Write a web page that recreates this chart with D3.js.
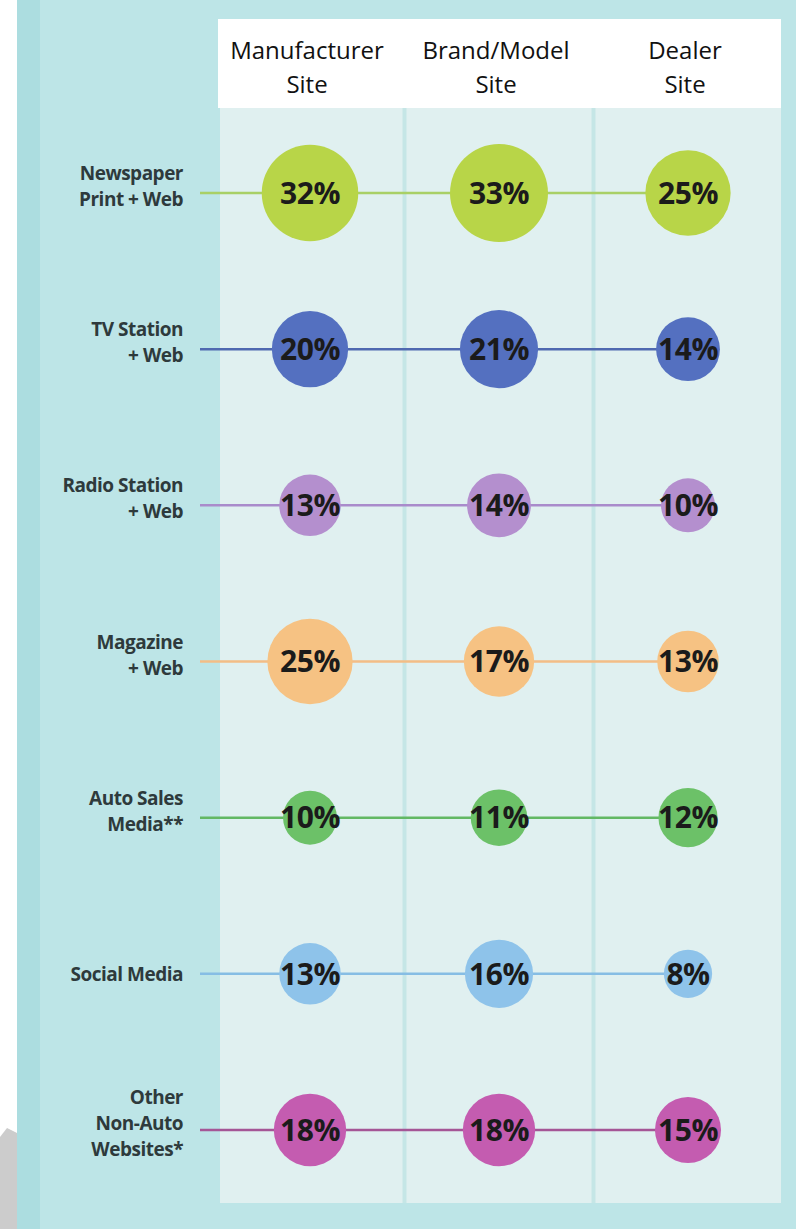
<!doctype html>
<html>
  <head>
    <meta charset="utf-8">
    <title>Media sites</title>
    <script src="https://cdnjs.cloudflare.com/ajax/libs/d3/7.8.5/d3.min.js"></script>
    <style>
      body { margin: 0; background: #fff; }
      svg { display: block; }
    </style>
  </head>
  <body>
    <div id="chart"></div>
    <script>
      // --- data ---
      const siteLines = [["Manufacturer", "Site"], ["Brand/Model", "Site"], ["Dealer", "Site"]];
      const mediaLines = [
        ["Newspaper", "Print + Web"],
        ["TV Station", "+ Web"],
        ["Radio Station", "+ Web"],
        ["Magazine", "+ Web"],
        ["Auto Sales", "Media**"],
        ["Social Media"],
        ["Other", "Non-Auto", "Websites*"]
      ];
      const manufacturer = [32, 20, 13, 25, 10, 13, 18];
      const brandModel = [33, 21, 14, 17, 11, 16, 18];
      const dealer = [25, 14, 10, 13, 12, 8, 15];
      const circleColors = ["#b8d548", "#5470c0", "#b48fce", "#f6c283", "#6cc168", "#8ec3ea", "#c45cb0"];
      const lineColors = ["#a9d066", "#4f69b0", "#a98bcb", "#f3bd86", "#63b864", "#86bde4", "#a55696"];

      const W = 796, H = 1229;
      const series = [manufacturer, brandModel, dealer];

      const svg = d3.select('#chart').append('svg')
        .attr('width', W)
        .attr('height', H);

      const x = d3.scalePoint().domain(d3.range(siteLines.length)).range([310, 688]);
      const y = d3.scalePoint().domain(d3.range(mediaLines.length)).range([193, 1130]);
      const r = d3.scaleSqrt().domain([0, 33]).range([0, 49]);

      // backgrounds
      svg.append('rect').attr('x', 40).attr('y', 0).attr('width', W - 40).attr('height', H).attr('fill', '#bde5e7');
      svg.append('rect').attr('x', 17).attr('y', 0).attr('width', 23).attr('height', H).attr('fill', '#acdde0');
      svg.append('path').attr('d', 'M0,1137 L7,1128 L17,1133 L17,1229 L0,1229 Z').attr('fill', '#cccccc');

      const step = x.step();
      const panelLeft = x(0) - 90, panelRight = x(2) + 93;
      svg.append('rect')
        .attr('x', panelLeft).attr('y', 108)
        .attr('width', panelRight - panelLeft).attr('height', 1203 - 108)
        .attr('fill', '#e0f0f0');

      // column dividers
      svg.selectAll('.divider')
        .data([0.5, 1.5])
        .join('line')
        .attr('x1', d => x(0) + d * step)
        .attr('x2', d => x(0) + d * step)
        .attr('y1', 108).attr('y2', 1203)
        .attr('stroke', '#c5e6e6')
        .attr('stroke-width', 4);

      // header
      svg.append('rect')
        .attr('x', panelLeft - 2).attr('y', 19)
        .attr('width', panelRight - panelLeft + 2).attr('height', 108 - 19)
        .attr('fill', '#fff');

      siteLines.forEach((lines, i) => {
        svg.append('text')
          .attr('text-anchor', 'middle')
          .style('font-family', '"Open Sans", sans-serif')
          .style('font-size', '24px')
          .attr('fill', '#111')
          .selectAll('tspan')
          .data(lines)
          .join('tspan')
          .attr('x', x(i) - 3)
          .attr('y', (d, j) => 59 + j * 34)
          .text(d => d);
      });

      // rows
      const rows = svg.selectAll('.row')
        .data(mediaLines)
        .join('g')
        .attr('class', 'row')
        .attr('transform', (d, i) => `translate(0,${y(i)})`);

      rows.append('line')
        .attr('x1', 200).attr('x2', x(2))
        .attr('y1', 0).attr('y2', 0)
        .attr('stroke', (d, i) => lineColors[i])
        .attr('stroke-width', 2.5);

      rows.append('text')
        .attr('text-anchor', 'end')
        .style('font-family', '"Open Sans", sans-serif')
        .style('font-size', '19px')
        .style('font-weight', 700)
        .style('letter-spacing', '-0.5px')
        .attr('fill', '#2e3a3c')
        .selectAll('tspan')
        .data(d => d.map(t => ({ t, n: d.length })))
        .join('tspan')
        .attr('x', 183)
        .attr('y', (d, j) => (j - (d.n - 1) / 2) * 26 + (d.n === 1 ? 7 : 0))
        .text(d => d.t);

      rows.each(function (d, i) {
        const g = d3.select(this);
        series.forEach((s, c) => {
          g.append('circle')
            .attr('cx', x(c))
            .attr('cy', 0)
            .attr('r', r(s[i]))
            .attr('fill', circleColors[i]);
          g.append('text')
            .attr('x', x(c))
            .attr('y', 0)
            .attr('dy', '0.36em')
            .attr('text-anchor', 'middle')
            .style('font-family', '"Open Sans", sans-serif')
            .style('font-size', '30px')
            .style('font-weight', 700)
            .style('letter-spacing', '-0.5px')
            .attr('fill', '#1b1b1b')
            .text(s[i] + '%');
        });
      });
    </script>
  </body>
</html>
